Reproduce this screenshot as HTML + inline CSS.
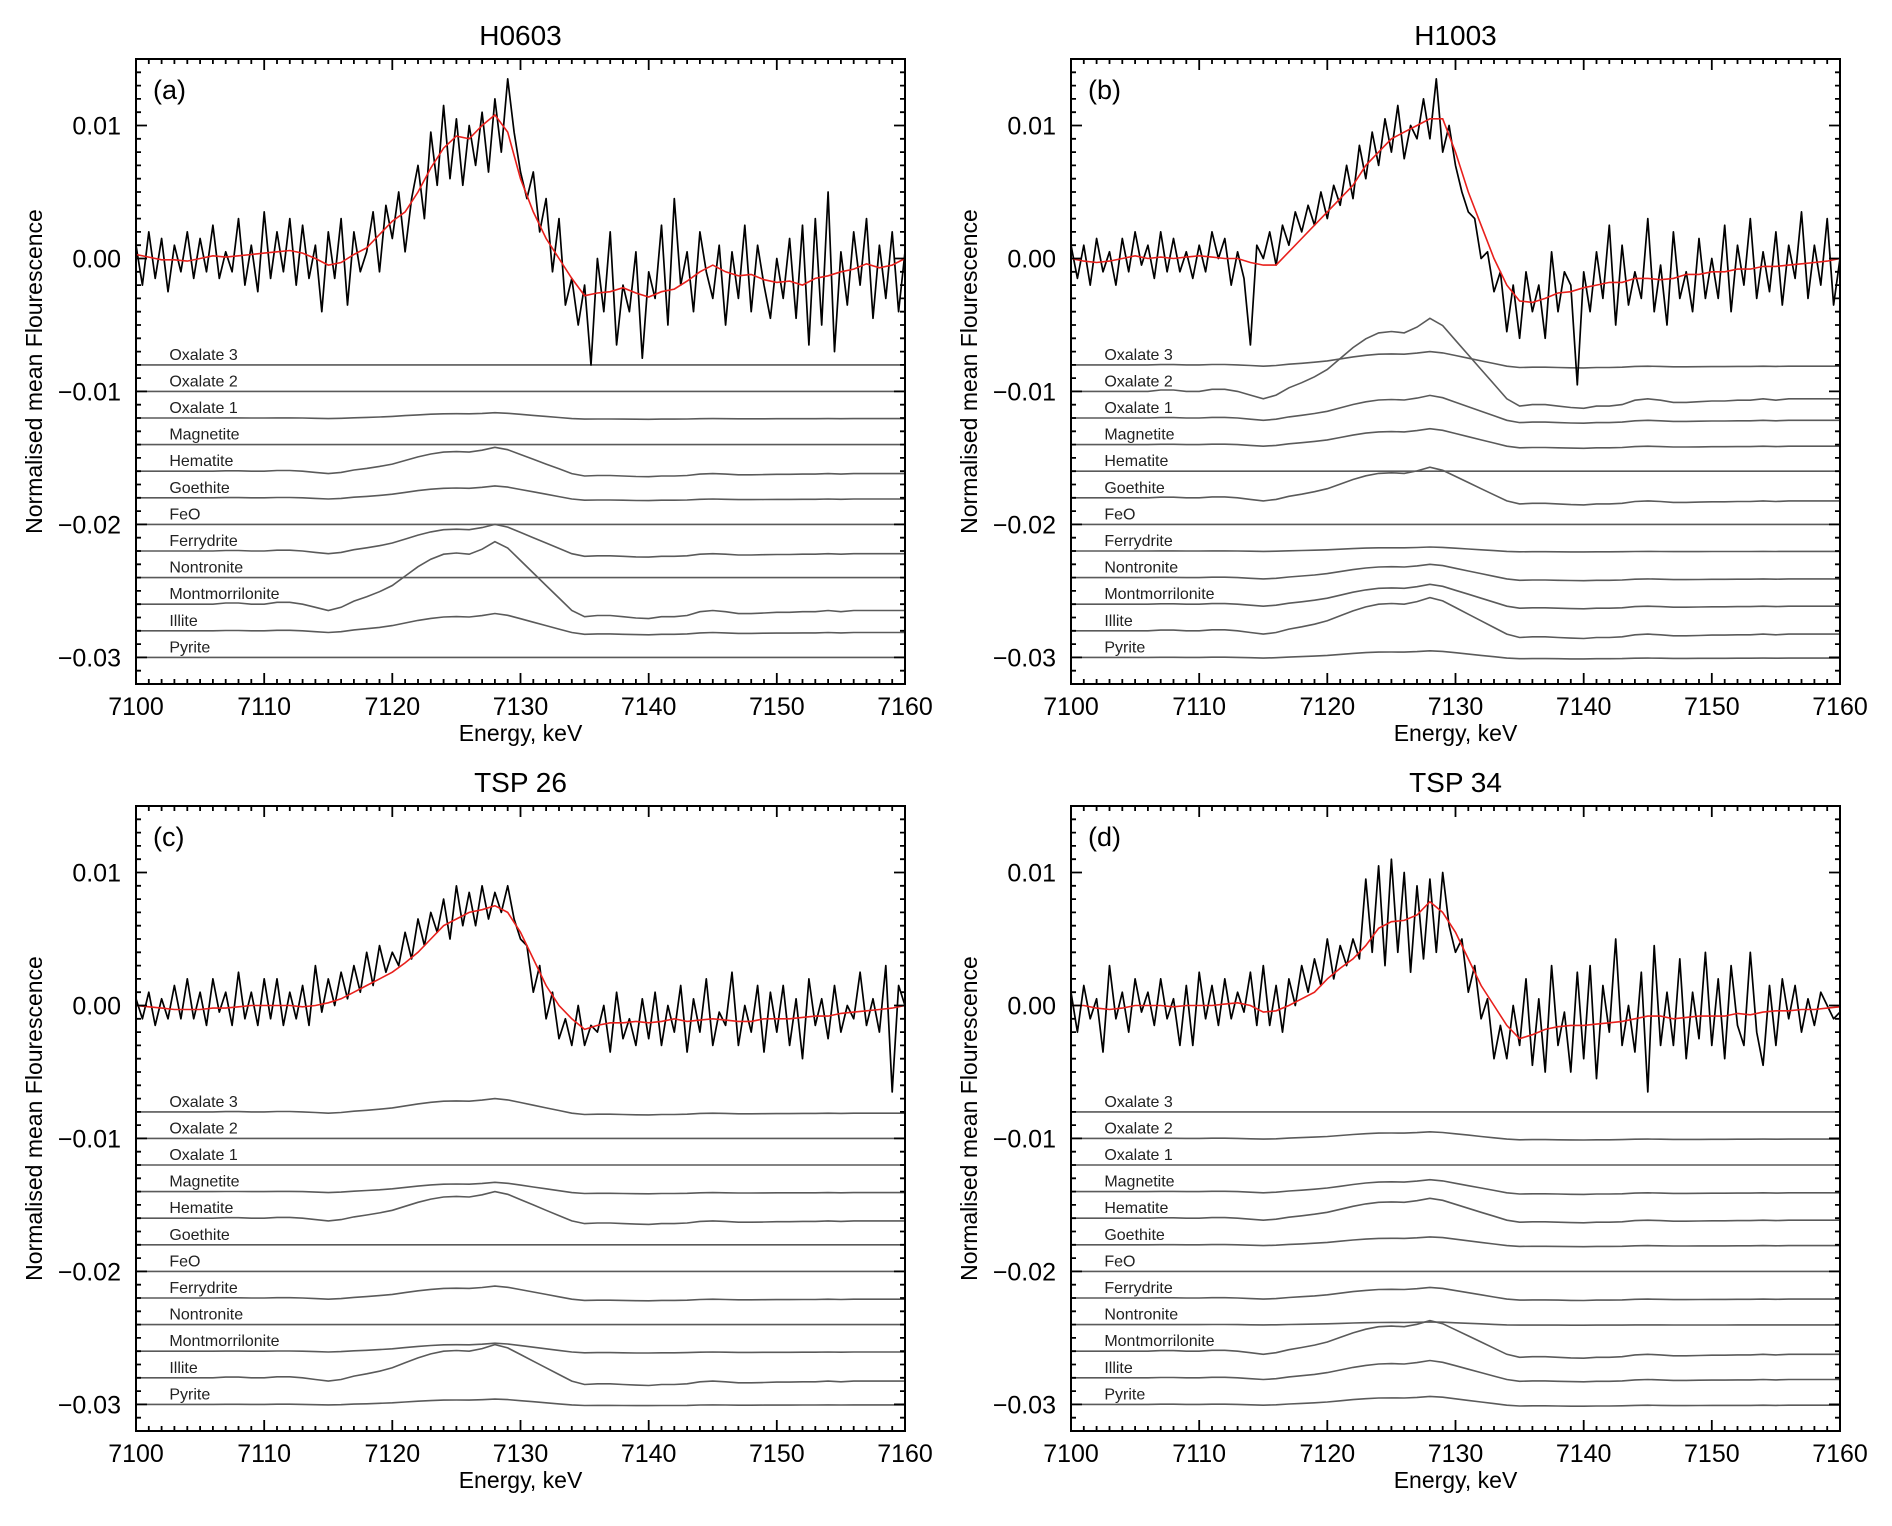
<!DOCTYPE html>
<html><head><meta charset="utf-8"><style>
html,body{margin:0;padding:0;background:#fff;}
svg{display:block;font-family:"Liberation Sans",Arial,sans-serif;}
</style></head><body>
<svg id="fig" width="1892" height="1526" viewBox="0 0 1892 1526" xmlns="http://www.w3.org/2000/svg"></svg>
<script>
// ---------- data (values in units of 1e-3) ----------
const panelTitles = ["H0603", "H1003", "TSP 26", "TSP 34"];
const panelLetters = ["(a)", "(b)", "(c)", "(d)"];
const xTicks = [7100, 7110, 7120, 7130, 7140, 7150, 7160];
const yTicks = [0.01, 0.00, -0.01, -0.02, -0.03];
const yTickLabels = ["0.01", "0.00", "\u22120.01", "\u22120.02", "\u22120.03"];
const minerals = ["Oxalate 3","Oxalate 2","Oxalate 1","Magnetite","Hematite","Goethite","FeO","Ferrydrite","Nontronite","Montmorrilonite","Illite","Pyrite"];
const mineralOffsets = [-8,-10,-12,-14,-16,-18,-20,-22,-24,-26,-28,-30];
// normalised reference spectrum shape, 7100..7160 step 1 keV
const refShape = [0,0,0,0,0,0,0,0.02,0.02,0,0,0.03,0.03,0,-0.05,-0.1,-0.05,0.05,0.12,0.2,0.3,0.45,0.6,0.72,0.8,0.82,0.8,0.88,1.0,0.9,0.7,0.5,0.3,0.1,-0.1,-0.2,-0.18,-0.18,-0.2,-0.22,-0.23,-0.2,-0.2,-0.18,-0.12,-0.1,-0.12,-0.15,-0.15,-0.14,-0.13,-0.13,-0.12,-0.12,-0.1,-0.12,-0.1,-0.1,-0.1,-0.1,-0.1];
// weighted amplitude of each mineral per panel
const ampA = [0,0,0.4,0,1.8,0.9,0,2.0,0,4.7,1.3,0];
const ampB = [1.0,5.5,1.7,1.2,0,2.3,0,0.3,1.0,1.5,2.5,0.5];
const ampC = [1.0,0,0,0.7,2.0,0,0,0.9,0,0.6,2.5,0.4];
const ampD = [0,0.5,0,0.9,1.5,0.6,0,0.8,0.2,2.3,1.3,0.6];
// red fits, 7100..7160 step 1
const fitA = [0.3,0.1,-0.1,-0.1,-0.2,0,0.2,0.1,0.2,0.3,0.4,0.5,0.6,0.4,0,-0.5,-0.3,0.3,0.8,1.8,2.8,3.5,5,6.8,8.3,9.2,9.0,10,10.8,9.5,6,3.5,1.5,0,-1.5,-2.8,-2.6,-2.5,-2.2,-2.6,-2.9,-2.5,-2.3,-1.7,-1.0,-0.5,-1.0,-1.3,-1.2,-1.6,-1.8,-1.7,-2.0,-1.5,-1.3,-1.0,-0.8,-0.4,-0.7,-0.5,0.0];
const fitB = [0,-0.2,-0.3,-0.2,0,0.2,0,0.1,0,0.1,0.2,0.1,0,0,-0.3,-0.5,-0.5,0.5,1.5,2.5,3.5,4.5,5.5,7,8,9,9.5,10,10.5,10.5,8,5,2.5,0,-2,-3.2,-3.3,-3,-2.6,-2.5,-2.2,-2,-1.8,-1.8,-1.5,-1.5,-1.6,-1.5,-1.2,-1.2,-1,-1,-0.8,-0.8,-0.6,-0.6,-0.5,-0.4,-0.3,-0.2,0];
const fitC = [0,-0.1,-0.2,-0.3,-0.3,-0.3,-0.2,-0.2,-0.1,0,0,0,0,-0.1,0,0.2,0.5,1,1.5,2,2.5,3.2,4,5,6,6.5,7,7.2,7.5,7,5.5,3.5,1.5,0,-1,-1.8,-1.5,-1.3,-1.3,-1.2,-1.3,-1.2,-1.0,-1.2,-1.1,-1.0,-1.1,-1.2,-1.2,-1.0,-1.0,-1.0,-0.9,-0.8,-0.8,-0.6,-0.5,-0.4,-0.3,-0.2,0];
const fitD = [0,0,-0.2,-0.3,-0.2,0,0,0,-0.1,0,0,0,0.1,0.2,0,-0.5,-0.4,0,0.5,1,2,2.8,3.5,4.5,5.8,6.3,6.4,6.8,7.8,7,5.5,3.5,1.5,0,-1.5,-2.5,-2.2,-1.8,-1.6,-1.5,-1.5,-1.4,-1.3,-1.2,-1.0,-0.8,-0.8,-1.0,-0.9,-0.8,-0.8,-0.8,-0.6,-0.7,-0.5,-0.4,-0.4,-0.3,-0.3,-0.2,-0.1];
// measured spectra, 7100..7160 step 0.5
const dataA = [1,-2,2,-1.5,1.5,-2.5,1,-1,2,-1.5,1.5,-1,2.5,-1.5,0.5,-1,3,-2,1,-2.5,3.5,
 -1.5,2,-1,3,-2,2.5,-1.5,1,-4,2,-1.5,3,-3.5,2,-1,0.5,3.5,-1,4,1.5,
 5,0.5,4.5,7,3,9.5,5.5,11.5,6,10.5,5.5,10,7,11,6.5,12,8,13.5,9.5,6.5,
 4.5,6.5,2,4.5,-1,3,-3.5,-1.5,-5,-2,-8,0,-4,2,-6.5,-2,-4,0.5,-7.5,-1,
 -3,2.5,-5,4.5,-2,0.5,-4,2,-1,-3,1,-5,0.5,-3,2.5,-4,1,-2,-4.5,0,
 -3,1.5,-4.5,2.5,-6.5,3,-5,5,-7,0.5,-3.5,2,-2,3,-4.5,1,-3,2,-4,0.5];
const dataB = [1,-1.5,1,-2,1.5,-1,0.5,-2,1.5,-1,2,-0.5,1,-1.5,2,-1,1.5,-1,0.5,-1.5,1,
 -1,2,0,1.5,-2,0.5,-1.5,-6.5,1,0,2,-0.5,2.5,1,3.5,2,4,2.5,5,3,
 5.5,4,7,4.5,8.5,6,9.5,7,10.5,8,11.5,7.5,10,9,12,9,13.5,8,10,7,
 5,3.5,3,0,0.5,-2.5,-1,-5.5,-2,-6,-1,-4,-2,-6,0.5,-4,-1,-2,-9.5,-1,
 -4,0.5,-3,2.5,-5,1,-3.5,-1,-3,3,-4,-0.5,-5,2,-3,-1,-4,1.5,-3,0,
 -3,2.5,-4,1,-2,3,-3,0.5,-2.5,2,-3.5,1,-1.5,3.5,-3,1,-2,3,-3.5,0];
const dataC = [0.5,-1,1,-1.5,0.5,-1,1.5,-1,2,-1,1,-1.5,2,-0.5,1,-1.5,2.5,-1,1,-1.5,2,
 -1,2,-1.5,1,-1,1.5,-1.5,3,-0.5,2,0,2.5,0.5,3,1,4,1.5,4.5,2.5,4,
 3,5.5,3.5,6.5,4.5,7,5.5,8,5,9,6,8.5,6,9,6.5,8.5,7,9,6.5,5,
 4.5,1,3,-1,1,-2.5,-1,-3,0,-3,-1.5,-2,0,-3.5,1,-2.5,-1,-3,0.5,-2.5,
 1,-3,0,-2,1.5,-3.5,0.5,-2,2,-3,-0.5,-1.5,2.5,-3,0,-2,1.5,-3.5,1,-2,
 1.5,-3,0.5,-4,2,-1.5,0.5,-2.5,1.5,-2,0,-1,2.5,-1.5,0.5,-2,3,-6.5,1.5,0];
const dataD = [1,-2,1.5,-1,0.5,-3.5,3,-1,1,-2,2,-0.5,1,-1.5,2,-1,0.5,-3,1.5,-3,2.5,
 -1,1.5,-1.5,2,-1,1,-0.5,2.5,-1.5,3,-1.5,1.5,-2,2,0,3,1,3.5,1.5,5,
 2,4.5,3,5,3.5,9.5,4,10.5,3,11,4,10,2.5,9,3.5,9.5,4,10,6,4,
 5,1,3,-1,0.5,-4,-1.5,-4,0,-3,2,-4.5,0.5,-5,3,-3,-0.5,-5,2.5,-4,
 3,-5.5,1.5,-2,5,-3,0,-3.5,2.5,-6.5,4.5,-3,1,-3,3.5,-4,1,-2.5,4,-3,
 2,-4,3,-1.5,-3,4,-2,-4.5,1.5,-3,2,-1,1.5,-2,0.5,-1.5,1,0,-1,-0.5];

const panelData = [dataA, dataB, dataC, dataD];
const panelFits = [fitA, fitB, fitC, fitD];
const panelAmps = [ampA, ampB, ampC, ampD];

// ---------- drawing ----------
const NS = "http://www.w3.org/2000/svg";
const svg = document.getElementById("fig");
function mk(tag, attrs, parent) {
  const e = document.createElementNS(NS, tag);
  for (const k in attrs) e.setAttribute(k, attrs[k]);
  (parent || svg).appendChild(e);
  return e;
}
const origins = [[136,59],[1071,59],[136,806],[1071,806]];
const W = 769, H = 625, XMIN = 7100, XMAX = 7160, YMIN = -0.032, YMAX = 0.015;

origins.forEach((o, p) => {
  const [ox, oy] = o;
  const sx = x => ox + (x - XMIN) / (XMAX - XMIN) * W;
  const sy = v => oy + (YMAX - v) / (YMAX - YMIN) * H;
  const g = mk("g", {});
  
  

  const t = mk("text", {x: ox + W/2, y: oy - 14, "text-anchor": "middle", "font-size": 28}, g);
  t.textContent = panelTitles[p];
  
  

  const lt = mk("text", {x: ox + 17, y: oy + 40, "font-size": 27}, g);
  lt.textContent = panelLetters[p];
  
  

  // reference spectra
  minerals.forEach((m, i) => {
    const amp = panelAmps[p][i];
    let d = "";
    refShape.forEach((s, k) => {
      const v = (mineralOffsets[i] + amp * s) / 1000;
      d += (k ? "L" : "M") + sx(XMIN + k).toFixed(1) + "," + sy(v).toFixed(1);
    });
    const pl = mk("path", {d: d, fill: "none", stroke: "#5a5a5a", "stroke-width": 1.6}, g);
    
    
    const lb = mk("text", {x: sx(7102.6), y: sy(mineralOffsets[i] / 1000) - 5, "font-size": 16, fill: "#222"}, g);
    lb.textContent = m;
    
    
  });

  // measured spectrum
  let d = "";
  panelData[p].forEach((v, k) => {
    d += (k ? "L" : "M") + sx(XMIN + k * 0.5).toFixed(1) + "," + sy(v / 1000).toFixed(1);
  });
  const dl = mk("path", {d: d, fill: "none", stroke: "#000", "stroke-width": 1.7, "stroke-linejoin": "round"}, g);
  
  

  // fit
  d = "";
  panelFits[p].forEach((v, k) => {
    d += (k ? "L" : "M") + sx(XMIN + k).toFixed(1) + "," + sy(v / 1000).toFixed(1);
  });
  const fl = mk("path", {d: d, fill: "none", stroke: "#e8201c", "stroke-width": 1.6}, g);
  
  

  // axes frame
  const fr = mk("rect", {x: ox, y: oy, width: W, height: H, fill: "none", stroke: "#000", "stroke-width": 2}, g);
  
  

  // x ticks
  let td = "";
  for (let x = XMIN; x <= XMAX; x++) {
    const L = (x % 10 === 0) ? 11 : 5;
    const X = sx(x).toFixed(1);
    td += `M${X},${oy+H}v${-L}M${X},${oy}v${L}`;
  }
  // y ticks
  for (let k = -32; k <= 15; k++) {
    const L = (k % 10 === 0) ? 11 : 5;
    const Y = sy(k / 1000).toFixed(1);
    td += `M${ox},${Y}h${L}M${ox+W},${Y}h${-L}`;
  }
  const tk = mk("path", {d: td, stroke: "#000", "stroke-width": 1.8, fill: "none"}, g);
  
  

  xTicks.forEach(x => {
    const e = mk("text", {x: sx(x), y: oy + H + 31, "text-anchor": "middle", "font-size": 25}, g);
    e.textContent = x;
    
    
  });
  yTicks.forEach((v, i) => {
    const e = mk("text", {x: ox - 15, y: sy(v) + 9, "text-anchor": "end", "font-size": 25}, g);
    e.textContent = yTickLabels[i];
    
    
  });
  const xt = mk("text", {x: ox + W/2, y: oy + H + 57, "text-anchor": "middle", "font-size": 23}, g);
  xt.textContent = "Energy, keV";
  
  
  const yx = ox - 94, yy = oy + H/2;
  const yt = mk("text", {x: yx, y: yy, "text-anchor": "middle", "font-size": 23, transform: `rotate(-90 ${yx} ${yy})`}, g);
  yt.textContent = "Normalised mean Flourescence";
  
  
});
</script>
</body></html>
